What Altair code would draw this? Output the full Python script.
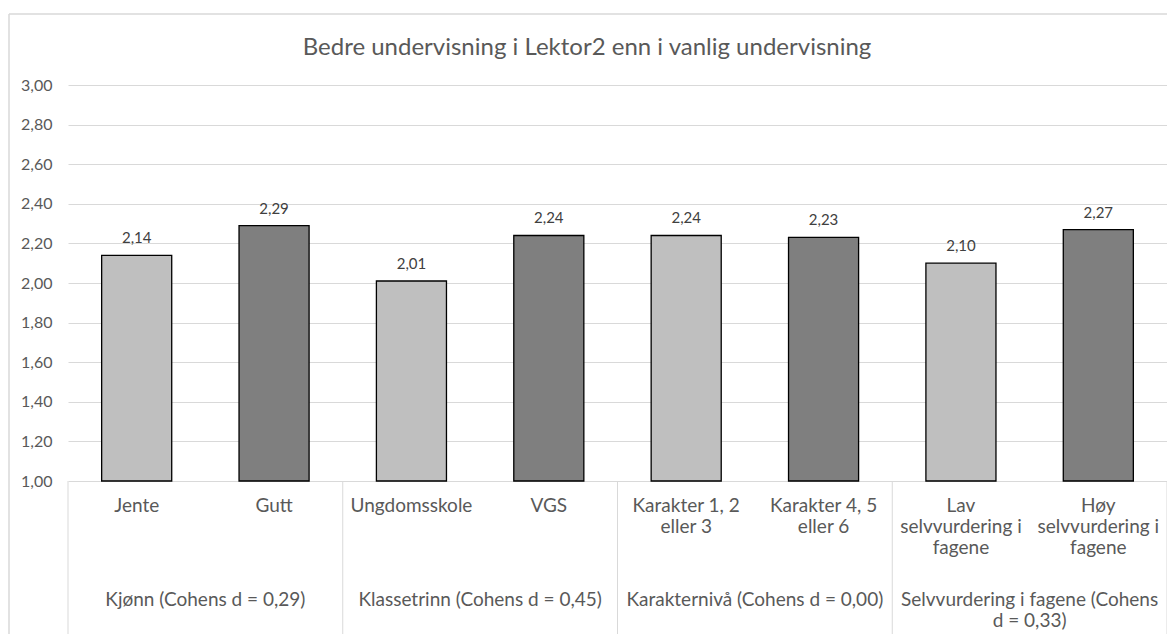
import altair as alt
import pandas as pd

# ---- data ----
categories = ["Jente", "Gutt", "Ungdomsskole", "VGS",
              "Karakter 1, 2\neller 3", "Karakter 4, 5\neller 6",
              "Lav\nselvvurdering i\nfagene", "Høy\nselvvurdering i\nfagene"]
values = [2.14, 2.29, 2.01, 2.24, 2.24, 2.23, 2.10, 2.27]
shades = ["light", "dark", "light", "dark", "light", "dark", "light", "dark"]
group_labels = ["Kjønn (Cohens d = 0,29)",
                "Klassetrinn (Cohens d = 0,45)",
                "Karakternivå (Cohens d = 0,00)",
                "Selvvurdering i fagene (Cohens\nd = 0,33)"]
group_first = [categories[0], categories[2], categories[4], categories[6]]
y_ticks = [1.0, 1.2, 1.4, 1.6, 1.8, 2.0, 2.2, 2.4, 2.6, 2.8, 3.0]
title_text = ["Bedre undervisning i Lektor2 enn i vanlig undervisning"]

W, H = 1099, 396
FONT = "Lato"
GRID = "#D9D9D9"
TXT = "#595959"

bars_df = pd.DataFrame({"cat": categories, "value": values, "shade": shades})
groups_df = pd.DataFrame({"cat": group_first, "label": group_labels})
sep_df = pd.DataFrame({"cat": group_first})
last_df = pd.DataFrame({"cat": [categories[-1]]})
title_df = pd.DataFrame({"t": title_text})

xscale = alt.Scale(domain=categories, paddingInner=0, paddingOuter=0)

x_enc = alt.X("cat:N", sort=categories, scale=xscale, axis=None)
y_axis = alt.Axis(values=y_ticks, grid=True, gridColor=GRID, gridWidth=1,
                  domain=False, ticks=False, labelPadding=16,
                  labelOverlap=False, tickCount=11,
                  labelFontSize=16, labelColor=TXT, labelFont=FONT,
                  labelExpr="replace(format(datum.value, '.2f'), '.', ',')",
                  title=None)
y_scale = alt.Scale(domain=[1, 3], nice=False, zero=False)
y_enc = alt.Y("value:Q", scale=y_scale, axis=y_axis)

base = alt.Chart(bars_df)

bars = base.mark_bar(width=alt.RelativeBandSize(0.51), stroke="#000000",
                     strokeWidth=1.3).encode(
    x=x_enc, y=y_enc, y2=alt.datum(1.0),
    color=alt.Color("shade:N", scale=alt.Scale(domain=["light", "dark"],
                                               range=["#BFBFBF", "#7F7F7F"]),
                    legend=None))

vals = base.mark_text(font=FONT, fontSize=15, color="#404040", baseline="alphabetic",
                      dy=-12).transform_calculate(
    lbl="replace(format(datum.value, '.2f'), '.', ',')").encode(
    x=x_enc, y=y_enc, text="lbl:N")

cat_text = base.mark_text(font=FONT, fontSize=19, color=TXT, baseline="top",
                          lineBreak="\n", lineHeight=21, align="center").encode(
    x=x_enc, y=alt.value(H + 16), text="cat:N")

grp_text = alt.Chart(groups_df).mark_text(font=FONT, fontSize=19, color=TXT,
                                          baseline="top", lineBreak="\n",
                                          lineHeight=21, align="center").encode(
    x=alt.X("cat:N", sort=categories, scale=xscale, axis=None, bandPosition=1),
    y=alt.value(H + 110), text="label:N")

seps = alt.Chart(sep_df).mark_rule(color=GRID, strokeWidth=1).encode(
    x=alt.X("cat:N", sort=categories, scale=xscale, axis=None, bandPosition=0),
    y=alt.value(H), y2=alt.value(H + 170))

sep_last = alt.Chart(last_df).mark_rule(color=GRID, strokeWidth=1).encode(
    x=alt.X("cat:N", sort=categories, scale=xscale, axis=None, bandPosition=1),
    y=alt.value(H), y2=alt.value(H + 170))

border_top = alt.Chart(last_df).mark_rule(color=GRID, strokeWidth=1.5).encode(
    x=alt.value(-59), x2=alt.value(W + 10), y=alt.value(-71))
border_left = alt.Chart(last_df).mark_rule(color=GRID, strokeWidth=1.5).encode(
    x=alt.value(-59), y=alt.value(-71), y2=alt.value(H + 170))

title = alt.Chart(title_df).mark_text(font=FONT, fontSize=24, color=TXT,
                                      baseline="middle", align="center").encode(
    x=alt.value(519), y=alt.value(-37), text="t:N")

chart = alt.layer(bars, vals, border_top, border_left, seps, sep_last, cat_text,
                  grp_text, title).properties(
    width=W, height=H,
    autosize=alt.AutoSizeParams(type="none"),
    padding={"left": 60, "top": 77, "right": 0, "bottom": 153},
).configure_view(stroke=None)

chart.save("out.html", embed_options={"renderer": "svg", "actions": False})
